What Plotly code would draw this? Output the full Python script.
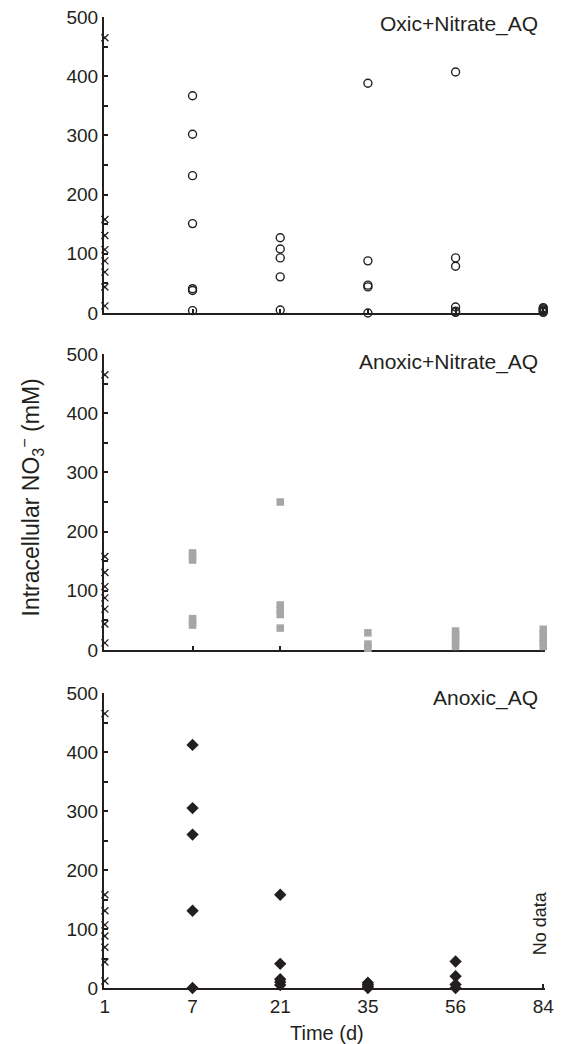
import plotly.graph_objects as go

days = ["1", "7", "21", "35", "56", "84"]
panel_titles = ["Oxic+Nitrate_AQ", "Anoxic+Nitrate_AQ", "Anoxic_AQ"]

# Day-1 initial values (x markers), same in every panel
initial_vals = [465, 158, 131, 107, 88, 69, 44, 12]

# Oxic+Nitrate_AQ (open circles)
oxic_d7 = [367, 302, 232, 151, 41, 38, 4]
oxic_d21 = [127, 108, 93, 61, 5]
oxic_d35 = [388, 88, 47, 44, 0]
oxic_d56 = [407, 93, 79, 10, 3, 1]
oxic_d84 = [1, 3, 5, 7, 9]

# Anoxic+Nitrate_AQ (gray squares)
anox_nit_d7 = [152, 158, 164, 42, 47, 53]
anox_nit_d21 = [250, 76, 68, 60, 37]
anox_nit_d35 = [29, 10, 3, -4]
anox_nit_d56 = [6, 12, 19, 26, 32]
anox_nit_d84 = [6, 13, 20, 27, 35]

# Anoxic_AQ (black diamonds), no data on day 84
anox_d7 = [412, 305, 260, 131, 0]
anox_d21 = [158, 41, 15, 10, 5]
anox_d35 = [0, 3, 6, 9]
anox_d56 = [45, 20, 6, 0]

FONT = "Liberation Sans, Arial, Helvetica, sans-serif"
INK = "#231f20"
GRAY = "#a6a6a8"


def expand(groups):
    xs, ys = [], []
    for day_idx, vals in groups:
        for v in vals:
            xs.append(day_idx)
            ys.append(v)
    return xs, ys


fig = go.Figure()

panels = [
    ([(1, oxic_d7), (2, oxic_d21), (3, oxic_d35), (4, oxic_d56), (5, oxic_d84)],
     dict(symbol="circle-open", size=8, color=INK, line=dict(width=1.4, color=INK))),
    ([(1, anox_nit_d7), (2, anox_nit_d21), (3, anox_nit_d35), (4, anox_nit_d56), (5, anox_nit_d84)],
     dict(symbol="square", size=7.5, color=GRAY, line=dict(width=0))),
    ([(1, anox_d7), (2, anox_d21), (3, anox_d35), (4, anox_d56)],
     dict(symbol="diamond", size=9.5, color=INK, line=dict(width=0))),
]

# panel domains (paper fractions)
domains = [[0.6952, 1.0], [0.3481, 0.6529], [0.0, 0.3038]]

for i, (groups, marker) in enumerate(panels):
    n = "" if i == 0 else str(i + 1)
    xa, ya = "x" + n, "y" + n
    fig.add_trace(go.Scatter(
        x=[0] * len(initial_vals), y=initial_vals, mode="markers",
        marker=dict(symbol="x-thin", size=7, line=dict(width=1.3, color=INK)),
        xaxis=xa, yaxis=ya, cliponaxis=False, showlegend=False))
    xs, ys = expand(groups)
    fig.add_trace(go.Scatter(
        x=xs, y=ys, mode="markers", marker=marker,
        xaxis=xa, yaxis=ya, cliponaxis=False, showlegend=False))

ytickvals = list(range(0, 501, 50))
yticktext = [str(v) if v % 100 == 0 else "" for v in ytickvals]

layout = dict(
    width=555, height=1036,
    margin=dict(l=96, r=18, t=9, b=56, autoexpand=False),
    paper_bgcolor="white", plot_bgcolor="white",
    font=dict(family=FONT, size=19, color=INK),
    showlegend=False,
)

for i in range(3):
    n = "" if i == 0 else str(i + 1)
    layout["xaxis" + n] = dict(
        domain=[0, 1], anchor="y" + n, range=[-0.01, 5.02],
        tickmode="array", tickvals=list(range(6)), ticktext=days,
        showticklabels=(i == 2), ticks="inside", ticklen=4, tickwidth=1.5,
        tickcolor=INK, showline=True, linecolor=INK, linewidth=2,
        showgrid=False, zeroline=False, automargin=False,
        layer="below traces", ticklabeloverflow="allow",
        tickfont=dict(size=19, color=INK),
    )
    layout["yaxis" + n] = dict(
        domain=domains[i], anchor="x" + n, range=[0, 500],
        tickmode="array", tickvals=ytickvals, ticktext=yticktext,
        ticks="inside", ticklen=4, tickwidth=1.5, tickcolor=INK,
        showline=True, linecolor=INK, linewidth=2,
        showgrid=False, zeroline=False, automargin=False,
        layer="below traces", ticklabeloverflow="allow",
        tickfont=dict(size=19, color=INK),
    )

fig.update_layout(**layout)

title_y = [0.9928, 0.645, 0.2987]
annotations = []
for i, title in enumerate(panel_titles):
    annotations.append(dict(
        text=title, x=0.9887, xref="paper", y=title_y[i], yref="paper",
        xanchor="right", yanchor="middle", showarrow=False,
        font=dict(family=FONT, size=21, color=INK)))

annotations.append(dict(
    text="No data", x=5, xref="x3", y=110, yref="y3", textangle=-90,
    xanchor="center", yanchor="middle", xshift=-3, showarrow=False,
    font=dict(family=FONT, size=18, color=INK)))

annotations.append(dict(
    text="Time (d)", x=0.506, xref="paper", y=-0.0463, yref="paper",
    xanchor="center", yanchor="middle", showarrow=False,
    font=dict(family=FONT, size=20, color=INK)))

annotations.append(dict(
    text="Intracellular NO<sub>3</sub><sup>\u2212</sup> (mM)",
    x=-0.1655, xref="paper", y=0.5052, yref="paper",
    showarrow=False, textangle=-90, xanchor="center", yanchor="middle",
    font=dict(family=FONT, size=23, color=INK)))

fig.update_layout(annotations=annotations)

fig.write_html("out.html")
